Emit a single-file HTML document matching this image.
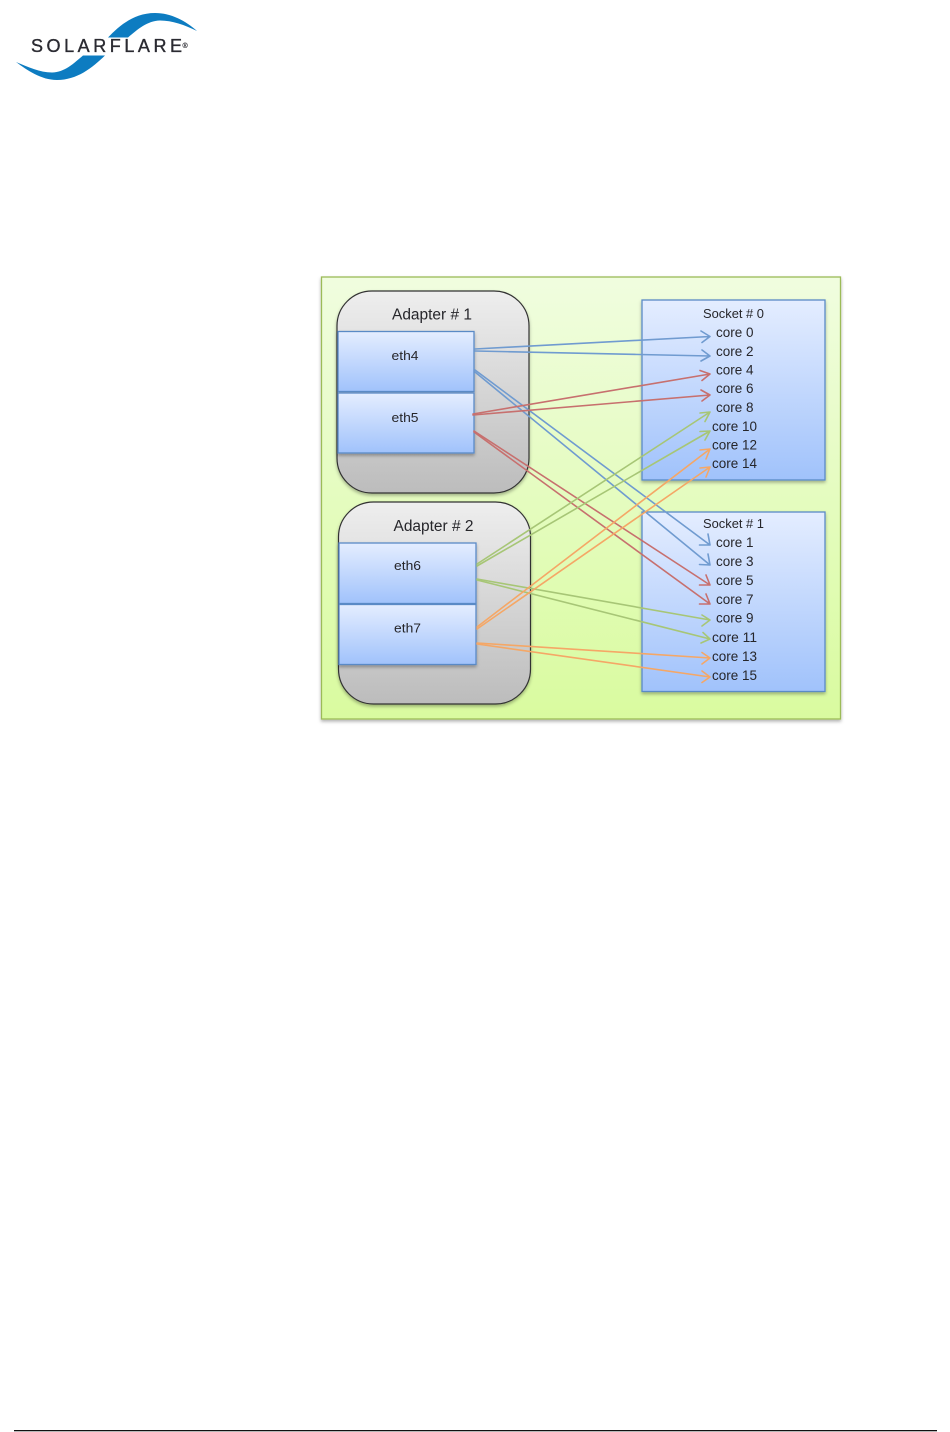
<!DOCTYPE html>
<html>
<head>
<meta charset="utf-8">
<style>
html,body{margin:0;padding:0;background:#fff;width:950px;height:1432px;overflow:hidden}
svg{display:block}
text{font-family:"Liberation Sans",sans-serif;fill:#26262b}
</style>
</head>
<body>
<svg width="950" height="1432" viewBox="0 0 950 1432" xmlns="http://www.w3.org/2000/svg">
<defs>
<linearGradient id="g" x1="0" y1="0" x2="0" y2="1"><stop offset="0" stop-color="#f0fddf"/><stop offset="1" stop-color="#d9fb9f"/></linearGradient>
<linearGradient id="a" x1="0" y1="0" x2="0" y2="1"><stop offset="0" stop-color="#eeeeee"/><stop offset="1" stop-color="#bcbcbc"/></linearGradient>
<linearGradient id="b" x1="0" y1="0" x2="0" y2="1"><stop offset="0" stop-color="#e4edff"/><stop offset="1" stop-color="#a0c2fb"/></linearGradient>
<filter id="s" x="-5%" y="-5%" width="110%" height="110%"><feDropShadow dx="0" dy="2" stdDeviation="1.5" flood-color="#000" flood-opacity="0.3"/></filter>
<filter id="bl" x="-2%" y="-2%" width="104%" height="104%"><feGaussianBlur stdDeviation="0.35"/></filter>
</defs>

<!-- logo -->
<g filter="url(#bl)">
<path d="M108 37.500C118 27 133 13 155 13C171 13 186 21 197 31C185 25 172 20.500 160 20.500C147 21 138 29 128 37.500Z" fill="#0a7cc1"/>
<path d="M83 55.500L105 55.500C92 68 77 80 57 80C41 80 27 70 16 62C28 67 40 72.500 52 72.500C65 72 73 64 83 55.500Z" fill="#0a7cc1"/>
<text x="31" y="52" font-size="18" textLength="151" lengthAdjust="spacing" style="fill:#2a2a30;stroke:#2a2a30;stroke-width:.35">SOLARFLARE</text>
<text x="182.500" y="48" font-size="7" style="fill:#2a2a30;stroke:#2a2a30;stroke-width:.2">®</text>
</g>

<!-- background panel -->
<rect x="321.500" y="277" width="519" height="442" fill="url(#g)" stroke="#9cbb59" stroke-width="1.300" filter="url(#s)"/>

<!-- adapters -->
<rect x="337" y="291" width="192" height="202" rx="35" ry="35" fill="url(#a)" stroke="#333" stroke-width="1.200" filter="url(#s)"/>
<rect x="338.500" y="502" width="192" height="202" rx="35" ry="35" fill="url(#a)" stroke="#333" stroke-width="1.200" filter="url(#s)"/>

<!-- eth boxes -->
<g fill="url(#b)" stroke="#5a8ac6" stroke-width="1.300" filter="url(#s)">
<rect x="338" y="331.500" width="136" height="60"/>
<rect x="338" y="393" width="136" height="60"/>
<rect x="339" y="543" width="137" height="60.500"/>
<rect x="339" y="604.500" width="137" height="60"/>
</g>

<!-- sockets -->
<g fill="url(#b)" stroke="#5a8ac6" stroke-width="1.300" filter="url(#s)">
<rect x="642" y="300" width="183" height="180"/>
<rect x="642" y="512" width="183" height="179.500"/>
</g>

<g filter="url(#bl)">
<!-- labels -->
<g font-size="15.500">
<text x="392" y="319.500" textLength="80" lengthAdjust="spacingAndGlyphs">Adapter # 1</text>
<text x="393.500" y="531" textLength="80" lengthAdjust="spacingAndGlyphs">Adapter # 2</text>
</g>
<g font-size="13">
<text x="391.500" y="360" textLength="27" lengthAdjust="spacingAndGlyphs">eth4</text>
<text x="391.500" y="422" textLength="27" lengthAdjust="spacingAndGlyphs">eth5</text>
<text x="394" y="570" textLength="27" lengthAdjust="spacingAndGlyphs">eth6</text>
<text x="394" y="632.500" textLength="27" lengthAdjust="spacingAndGlyphs">eth7</text>
<text x="703" y="318" textLength="61" lengthAdjust="spacingAndGlyphs">Socket # 0</text>
<text x="703" y="528" textLength="61" lengthAdjust="spacingAndGlyphs">Socket # 1</text>
</g>
<g font-size="13.500">
<text x="716" y="337" textLength="37.500" lengthAdjust="spacingAndGlyphs">core 0</text>
<text x="716" y="356" textLength="37.500" lengthAdjust="spacingAndGlyphs">core 2</text>
<text x="716" y="374.500" textLength="37.500" lengthAdjust="spacingAndGlyphs">core 4</text>
<text x="716" y="393" textLength="37.500" lengthAdjust="spacingAndGlyphs">core 6</text>
<text x="716" y="412" textLength="37.500" lengthAdjust="spacingAndGlyphs">core 8</text>
<text x="712" y="431" textLength="45" lengthAdjust="spacingAndGlyphs">core 10</text>
<text x="712" y="449.500" textLength="45" lengthAdjust="spacingAndGlyphs">core 12</text>
<text x="712" y="468" textLength="45" lengthAdjust="spacingAndGlyphs">core 14</text>
<text x="716" y="547" textLength="37.500" lengthAdjust="spacingAndGlyphs">core 1</text>
<text x="716" y="566" textLength="37.500" lengthAdjust="spacingAndGlyphs">core 3</text>
<text x="716" y="585" textLength="37.500" lengthAdjust="spacingAndGlyphs">core 5</text>
<text x="716" y="604" textLength="37.500" lengthAdjust="spacingAndGlyphs">core 7</text>
<text x="716" y="622.500" textLength="37.500" lengthAdjust="spacingAndGlyphs">core 9</text>
<text x="712" y="642" textLength="45" lengthAdjust="spacingAndGlyphs">core 11</text>
<text x="712" y="661" textLength="45" lengthAdjust="spacingAndGlyphs">core 13</text>
<text x="712" y="680" textLength="45" lengthAdjust="spacingAndGlyphs">core 15</text>
</g>

<!-- connectors -->
<g fill="none" stroke-width="1.600" stroke-linecap="round" stroke-linejoin="round">
<g stroke="#6f9bd0">
<path d="M475 349L710 336.500M701 331L710 336.500L702 342.500"/>
<path d="M475 351L710 356M702 350L710 356L701 361"/>
<path d="M475 370L710 545M699.500 545L710 545L708 534"/>
<path d="M475 372L710 565M699.500 564.500L710 565L708 554"/>
</g>
<g stroke="#c76f6e">
<path d="M473 414L710 374M700 370.500L710 374L702 380.500"/>
<path d="M473 415L710 395M701 390L710 395L702 401"/>
<path d="M474 431L710 585M699.500 585L710 585L706 575"/>
<path d="M474 432L710 604M699.500 604L710 604L706 594"/>
</g>
<g stroke="#a7c676">
<path d="M477 564L710 412M700 413L710 412L705 421.500"/>
<path d="M477 566L710 431M700 431.500L710 431L705 440"/>
<path d="M477 579L710 620M702 615L710 620L702 626"/>
<path d="M477 580L710 639M703 632.500L710 639L701 643"/>
</g>
<g stroke="#f5a766">
<path d="M477 627L710 449M700 450L710 449L706 459"/>
<path d="M477 629L710 467M700 468L710 467L706 477"/>
<path d="M477 643L710 658M702 652.500L710 658L702 664"/>
<path d="M477 644L710 677M702 671L710 677L702 682.500"/>
</g>
</g>
</g>

<!-- footer rule -->
<rect x="14" y="1430" width="923" height="1.300" fill="#111"/>
</svg>
</body>
</html>
